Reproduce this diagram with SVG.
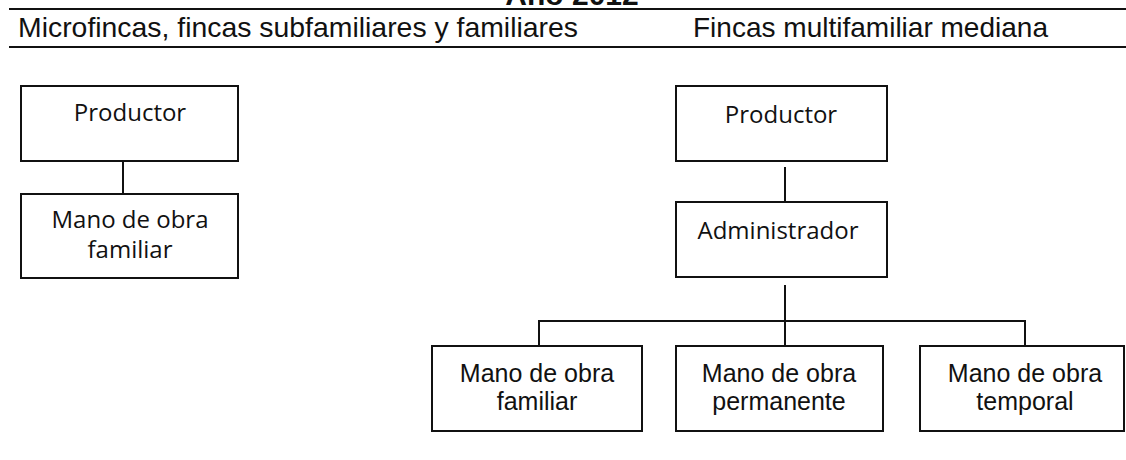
<svg xmlns="http://www.w3.org/2000/svg" width="1126" height="460" viewBox="0 0 1126 460">
<style>
.box{fill:#fff;stroke:#111;stroke-width:2}
.ln{stroke:#111;stroke-width:2;fill:none}
.hum{font-family:"Open Sans","DejaVu Sans",sans-serif;font-size:24px;fill:#111;text-anchor:middle}
.hel{font-family:"Liberation Sans",Arial,sans-serif;font-size:25px;fill:#111;text-anchor:middle}
.hdr{font-family:"Liberation Sans",Arial,sans-serif;font-size:28px;fill:#111}
</style>
<rect width="1126" height="460" fill="#fff"/>
<g id="header">
<text x="572" y="5" font-family="Liberation Sans, Arial, sans-serif" font-size="30" font-weight="bold" text-anchor="middle" fill="#111">Año 2012</text>
<line class="ln" x1="9" y1="9" x2="1126" y2="9"/>
<line class="ln" x1="9" y1="47" x2="1126" y2="47"/>
<text class="hdr" x="18" y="37" textLength="560" lengthAdjust="spacingAndGlyphs">Microfincas, fincas subfamiliares y familiares</text>
<text class="hdr" x="693" y="37" textLength="355" lengthAdjust="spacingAndGlyphs">Fincas multifamiliar mediana</text>
</g>
<g id="connectors">
<line class="ln" x1="123" y1="161" x2="123" y2="194"/>
<line class="ln" x1="785" y1="167" x2="785" y2="201"/>
<line class="ln" x1="785" y1="285" x2="785" y2="346"/>
<polyline class="ln" points="539,346 539,321 1025,321 1025,346"/>
</g>
<g id="left-productor">
<rect class="box" x="21" y="86" width="217" height="75"/>
<text class="hum" x="130" y="121">Productor</text>
</g>
<g id="left-mano-familiar">
<rect class="box" x="21" y="194" width="217" height="84"/>
<text class="hum" x="130" y="228">Mano de obra</text>
<text class="hum" x="130" y="258">familiar</text>
</g>
<g id="right-productor">
<rect class="box" x="676" y="86" width="211" height="75"/>
<text class="hum" x="781" y="123">Productor</text>
</g>
<g id="administrador">
<rect class="box" x="676" y="202" width="211" height="75"/>
<text class="hum" x="778" y="239">Administrador</text>
</g>
<g id="mano-familiar">
<rect class="box" x="432" y="346" width="210" height="85"/>
<text class="hel" x="537" y="382">Mano de obra</text>
<text class="hel" x="537" y="410">familiar</text>
</g>
<g id="mano-permanente">
<rect class="box" x="676" y="346" width="207" height="85"/>
<text class="hel" x="779" y="382">Mano de obra</text>
<text class="hel" x="779" y="410">permanente</text>
</g>
<g id="mano-temporal">
<rect class="box" x="920" y="346" width="204" height="85"/>
<text class="hel" x="1025" y="382">Mano de obra</text>
<text class="hel" x="1025" y="410">temporal</text>
</g>
</svg>
